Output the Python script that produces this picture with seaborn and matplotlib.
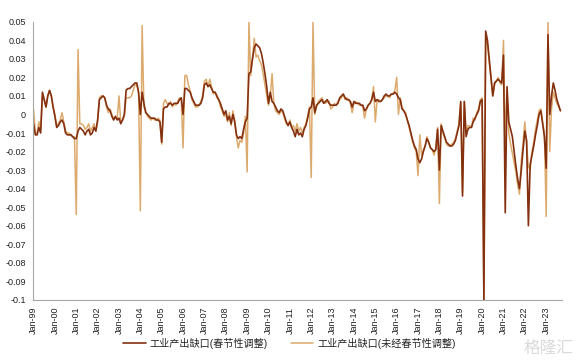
import pandas as pd
import matplotlib
matplotlib.use('Agg')
import matplotlib.pyplot as plt
import seaborn as sns

# ------------------------ DATA (monthly, Jan-99 .. Sep-23) ------------------------
sa_gap = [
    -0.005, -0.011, -0.011, -0.007, -0.010, 0.012, 0.008, 0.004, 0.010, 0.013, 0.010, 0.004,      # 1999
    -0.001, -0.007, -0.006, -0.004, -0.003, -0.005, -0.010, -0.011, -0.011, -0.011, -0.012, -0.013,  # 2000
    -0.013, -0.009, -0.007, -0.008, -0.009, -0.011, -0.009, -0.008, -0.011, -0.010, -0.007, -0.009,  # 2001
    -0.003, 0.008, 0.009, 0.010, 0.009, 0.005, 0.003, 0.002, -0.001, -0.003, -0.001, -0.003,      # 2002
    -0.002, -0.005, -0.003, 0.000, 0.013, 0.014, 0.014, 0.015, 0.016, 0.017, 0.017, 0.012,        # 2003
    0.000, 0.012, 0.006, 0.001, 0.000, -0.001, -0.002, -0.002, -0.002, -0.003, -0.003, -0.004,    # 2004
    -0.015, 0.003, 0.004, 0.004, 0.006, 0.006, 0.005, 0.006, 0.006, 0.006, 0.008, 0.009,          # 2005
    0.000, 0.014, 0.014, 0.013, 0.012, 0.009, 0.007, 0.005, 0.005, 0.005, 0.006, 0.009,           # 2006
    0.016, 0.017, 0.015, 0.016, 0.014, 0.012, 0.012, 0.010, 0.008, 0.006, 0.003, 0.000,           # 2007
    0.002, -0.003, -0.001, -0.005, 0.000, -0.004, -0.011, -0.013, -0.012, -0.013, -0.008, -0.004, # 2008
    -0.002, 0.022, 0.023, 0.030, 0.036, 0.038, 0.037, 0.036, 0.033, 0.028, 0.022, 0.015,         # 2009
    0.006, 0.012, 0.007, 0.006, 0.004, 0.002, 0.001, 0.003, 0.002, -0.001, -0.004, -0.006,        # 2010
    -0.004, -0.007, -0.009, -0.012, -0.008, -0.011, -0.010, -0.012, -0.008, -0.006, -0.002, 0.003,  # 2011
    0.004, 0.009, 0.001, 0.005, 0.006, 0.007, 0.008, 0.006, 0.007, 0.008, 0.006, 0.005,           # 2012
    0.005, 0.005, 0.005, 0.006, 0.009, 0.010, 0.011, 0.009, 0.008, 0.008, 0.007, 0.004,           # 2013
    0.007, 0.006, 0.006, 0.006, 0.005, 0.005, 0.002, 0.003, 0.005, 0.006, 0.008, 0.012,           # 2014
    0.007, 0.008, 0.007, 0.007, 0.008, 0.010, 0.011, 0.010, 0.010, 0.011, 0.011, 0.012,           # 2015
    0.011, 0.009, 0.008, 0.003, 0.002, 0.000, -0.003, -0.006, -0.010, -0.014, -0.017, -0.019,     # 2016
    -0.024, -0.026, -0.024, -0.020, -0.017, -0.013, -0.015, -0.018, -0.019, -0.020, -0.019, -0.008,  # 2017
    -0.030, -0.006, -0.009, -0.012, -0.015, -0.016, -0.017, -0.017, -0.016, -0.014, -0.010, -0.006,  # 2018
    0.007, -0.044, 0.007, -0.012, -0.008, -0.007, -0.007, -0.004, -0.002, 0.000, 0.002, 0.007,    # 2019
    0.008, -0.100, 0.045, 0.040, 0.030, 0.020, 0.010, 0.017, 0.018, 0.019, 0.018, 0.017,          # 2020
    0.032, -0.053, 0.015, -0.004, -0.008, -0.012, -0.020, -0.028, -0.035, -0.040, -0.030, -0.019,  # 2021
    -0.009, -0.014, -0.060, -0.027, -0.022, -0.017, -0.011, -0.006, 0.000, 0.002, -0.005, -0.012,  # 2022
    -0.029, 0.043, 0.000, 0.010, 0.017, 0.013, 0.008, 0.005, 0.002,                              # 2023
]

nsa_gap = [
    0.003, -0.010, -0.010, -0.004, -0.008, 0.010, 0.008, 0.004, 0.010, 0.013, 0.010, 0.004,       # 1999
    0.000, -0.006, -0.005, -0.003, 0.001, -0.004, -0.009, -0.010, -0.010, -0.011, -0.012, -0.012,  # 2000
    -0.054, 0.035, -0.005, -0.005, -0.006, -0.008, -0.007, -0.005, -0.009, -0.007, -0.005, -0.009,  # 2001
    -0.004, 0.009, 0.010, 0.010, 0.009, 0.004, 0.001, 0.003, 0.000, -0.002, -0.002, -0.002,       # 2002
    0.010, -0.004, -0.003, -0.001, 0.009, 0.009, 0.009, 0.010, 0.013, 0.016, 0.016, 0.012,        # 2003
    -0.052, 0.048, 0.004, 0.002, -0.001, -0.002, -0.003, -0.002, -0.003, -0.003, -0.002, -0.003,  # 2004
    -0.016, 0.006, 0.008, 0.006, 0.005, 0.007, 0.004, 0.006, 0.005, 0.007, 0.009, 0.008,          # 2005
    -0.018, 0.021, 0.021, 0.016, 0.013, 0.008, 0.006, 0.004, 0.004, 0.005, 0.007, 0.010,          # 2006
    0.018, 0.019, 0.015, 0.019, 0.015, 0.011, 0.012, 0.009, 0.008, 0.004, 0.002, -0.001,          # 2007
    0.000, -0.004, 0.001, -0.006, 0.002, -0.003, -0.012, -0.018, -0.014, -0.015, -0.010, -0.001,  # 2008
    -0.031, 0.050, 0.021, 0.030, 0.041, 0.031, 0.032, 0.029, 0.027, 0.022, 0.016, 0.010,          # 2009
    0.005, 0.010, 0.022, 0.006, 0.002, 0.001, 0.000, 0.002, 0.001, -0.002, -0.005, -0.006,        # 2010
    -0.003, -0.007, -0.006, -0.009, -0.005, -0.009, -0.007, -0.010, -0.007, -0.005, -0.001, 0.004,  # 2011
    -0.034, 0.050, 0.000, 0.004, 0.007, 0.008, 0.009, 0.007, 0.006, 0.007, 0.007, 0.003,          # 2012
    0.004, 0.006, 0.005, 0.007, 0.008, 0.009, 0.011, 0.008, 0.009, 0.008, 0.006, 0.001,           # 2013
    0.006, 0.007, 0.006, 0.005, 0.005, 0.004, -0.002, 0.003, 0.005, 0.006, 0.008, 0.015,          # 2014
    -0.004, 0.008, 0.008, 0.007, 0.008, 0.009, 0.010, 0.010, 0.009, 0.011, 0.011, 0.013,          # 2015
    0.020, 0.000, 0.009, 0.004, 0.002, 0.001, -0.003, -0.007, -0.011, -0.015, -0.018, -0.020,     # 2016
    -0.033, -0.011, -0.022, -0.019, -0.017, -0.012, -0.015, -0.018, -0.019, -0.022, -0.018, -0.007,  # 2017
    -0.048, -0.005, -0.010, -0.013, -0.016, -0.017, -0.017, -0.016, -0.015, -0.013, -0.009, -0.005,  # 2018
    0.006, -0.042, 0.007, -0.010, -0.006, -0.006, -0.007, -0.002, -0.003, 0.001, 0.003, 0.008,    # 2019
    0.009, -0.100, 0.040, 0.038, 0.028, 0.019, 0.010, 0.016, 0.018, 0.020, 0.017, 0.016,          # 2020
    0.040, -0.015, 0.013, -0.010, -0.016, -0.021, -0.026, -0.031, -0.038, -0.043, -0.025, -0.015,  # 2021
    -0.004, -0.016, -0.028, -0.030, -0.020, -0.015, -0.008, -0.003, 0.002, 0.003, -0.004, -0.010,  # 2022
    -0.055, 0.050, -0.020, 0.003, 0.012, 0.009, 0.006, 0.004, 0.002,                             # 2023
]

x_tick_labels = ['Jan-99', 'Jan-00', 'Jan-01', 'Jan-02', 'Jan-03', 'Jan-04', 'Jan-05',
                 'Jan-06', 'Jan-07', 'Jan-08', 'Jan-09', 'Jan-10', 'Jan-11', 'Jan-12',
                 'Jan-13', 'Jan-14', 'Jan-15', 'Jan-16', 'Jan-17', 'Jan-18', 'Jan-19',
                 'Jan-20', 'Jan-21', 'Jan-22', 'Jan-23']
y_ticks = [0.05, 0.04, 0.03, 0.02, 0.01, 0, -0.01, -0.02, -0.03, -0.04,
           -0.05, -0.06, -0.07, -0.08, -0.09, -0.1]
y_tick_labels = ['0.05', '0.04', '0.03', '0.02', '0.01', '0', '-0.01', '-0.02', '-0.03',
                 '-0.04', '-0.05', '-0.06', '-0.07', '-0.08', '-0.09', '-0.1']

label_sa = '工业产出缺口(春节性调整)'
label_nsa = '工业产出缺口(未经春节性调整)'

# ------------------------ PLOT ------------------------
sns.set_style('white')
plt.rcParams['font.family'] = ['Liberation Sans', 'Noto Sans CJK SC']
plt.rcParams['axes.unicode_minus'] = False

df = pd.DataFrame({'month': range(len(sa_gap)), 'sa': sa_gap, 'nsa': nsa_gap})

fig = plt.figure(figsize=(5.79, 3.63), dpi=100)
ax = fig.add_axes([0.057, 0.174, 0.914, 0.766])

sns.lineplot(data=df, x='month', y='nsa', ax=ax, color='#DDAA6E', linewidth=1.1, label=label_nsa)
sns.lineplot(data=df, x='month', y='sa', ax=ax, color='#84300F', linewidth=1.2, label=label_sa)

ax.set_xlim(-0.3, 297)
ax.set_ylim(-0.1, 0.05)
ax.set_xticks(range(0, 12 * len(x_tick_labels), 12))
ax.set_xticklabels(x_tick_labels, rotation=90)
ax.set_yticks(y_ticks)
ax.set_yticklabels(y_tick_labels)
ax.set_xlabel('')
ax.set_ylabel('')

for side in ['top', 'right']:
    ax.spines[side].set_visible(False)
for side in ['left', 'bottom']:
    ax.spines[side].set_color('#A6A6A6')
    ax.spines[side].set_linewidth(0.8)
ax.tick_params(axis='both', direction='out', length=3, width=0.8, color='#A6A6A6',
               labelsize=6.5, labelcolor='#222222', pad=2)

handles, labels = ax.get_legend_handles_labels()
if ax.get_legend() is not None:
    ax.get_legend().remove()
fig.legend([handles[1], handles[0]], [labels[1], labels[0]], loc='center',
           bbox_to_anchor=(0.5, 0.055), ncol=2, frameon=False, fontsize=7.3,
           handlelength=2.2, columnspacing=2.3, handletextpad=0.4)

fig.text(0.99, 0.02, '格隆汇', ha='right', va='bottom', fontsize=12, color='#DADADA')

plt.savefig('out.png', dpi=100)
plt.close()
